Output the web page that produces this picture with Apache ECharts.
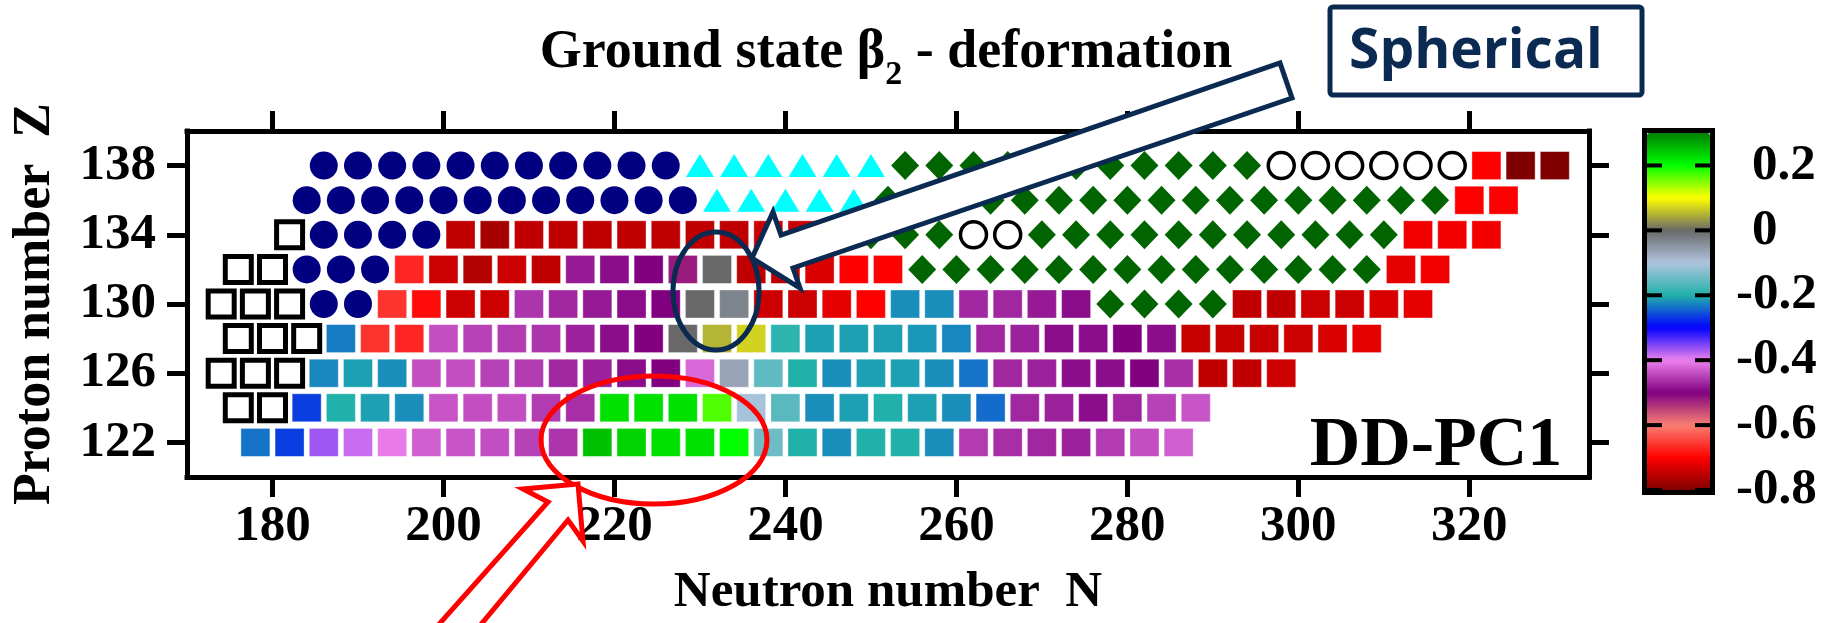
<!DOCTYPE html>
<html><head><meta charset="utf-8">
<script src="https://cdn.jsdelivr.net/npm/echarts@6/dist/echarts.min.js"></script>
<style>html,body{margin:0;padding:0;background:#fff}#c{width:1833px;height:623px}</style>
</head><body><div id="c"></div>
<script>
const SERIF = '"Liberation Serif","Times New Roman",serif';
const NAVY = '#0b2a52';

// axis ticks
const xTicks = [180, 200, 220, 240, 260, 280, 300, 320];
const yTicks = [122, 126, 130, 134, 138];
const cbTicks = [0.2, 0, -0.2, -0.4, -0.6, -0.8];
const cbLabels = ['0.2', '0', '-0.2', '-0.4', '-0.6', '-0.8'];
const betaMin = -0.8, betaMax = 0.3;
const cbColors = ['#800000', '#ff0000', '#fa8072', '#800080', '#ee82ee', '#0000ff',
                  '#20b2aa', '#b0c4de', '#696969', '#ffff00', '#00ff00', '#008000'];

// unbound / black open squares : [Z, [N...]]
const openSquareRows = [
  [134, [182]],
  [132, [176, 180]],
  [130, [174, 178, 182]],
  [128, [176, 180, 184]],
  [126, [174, 178, 182]],
  [124, [176, 180]]
];
// navy filled circles
const circleRows = [
  [138, [186, 190, 194, 198, 202, 206, 210, 214, 218, 222, 226]],
  [136, [184, 188, 192, 196, 200, 204, 208, 212, 216, 220, 224, 228]],
  [134, [186, 190, 194, 198]],
  [132, [184, 188, 192]],
  [130, [186, 190]]
];
// cyan triangles
const triangleRows = [
  [138, [230, 234, 238, 242, 246, 250]],
  [136, [232, 236, 240, 244, 248]]
];
// green diamonds
const diamondRows = [
  [138, [254, 258, 262, 266, 270, 274, 278, 282, 286, 290, 294]],
  [136, [252, 256, 260, 264, 268, 272, 276, 280, 284, 288, 292, 296, 300, 304, 308, 312, 316]],
  [134, [246, 250, 254, 258, 270, 274, 278, 282, 286, 290, 294, 298, 302, 306, 310]],
  [132, [256, 260, 264, 268, 272, 276, 280, 284, 288, 292, 296, 300, 304, 308]],
  [130, [278, 282, 286, 290]]
];
// black open circles
const openCircleRows = [
  [138, [298, 302, 306, 310, 314, 318]],
  [134, [262, 266]]
];
// coloured squares : [Z, [[N, beta2]...]]
const squareRows = [
  [138, [[322,-0.70],[326,-0.80],[330,-0.80]]],
  [136, [[320,-0.70],[324,-0.70]]],
  [134, [[202,-0.75],[206,-0.77],[210,-0.75],[214,-0.75],[218,-0.75],[222,-0.75],[226,-0.75],[230,-0.75],[234,-0.75],[238,-0.74],[242,-0.74],[314,-0.71],[318,-0.71],[322,-0.71]]],
  [132, [[196,-0.67],[200,-0.74],[204,-0.76],[208,-0.74],[212,-0.75],[216,-0.48],[220,-0.49],[224,-0.50],[228,-0.52],[232,0.00],[236,-0.75],[240,-0.75],[244,-0.73],[248,-0.70],[252,-0.70],[312,-0.72],[316,-0.71]]],
  [130, [[194,-0.66],[198,-0.69],[202,-0.74],[206,-0.74],[210,-0.46],[214,-0.47],[218,-0.48],[222,-0.49],[226,-0.50],[230,0.00],[234,-0.03],[238,-0.74],[242,-0.74],[246,-0.72],[250,-0.70],[254,-0.22],[258,-0.22],[262,-0.47],[266,-0.47],[270,-0.48],[274,-0.49],[294,-0.75],[298,-0.75],[302,-0.74],[306,-0.74],[310,-0.73],[314,-0.72]]],
  [128, [[188,-0.23],[192,-0.66],[196,-0.67],[200,-0.44],[204,-0.45],[208,-0.455],[212,-0.46],[216,-0.475],[220,-0.49],[224,-0.50],[228,0.00],[232,0.05],[236,0.07],[240,-0.19],[244,-0.21],[248,-0.21],[252,-0.21],[256,-0.215],[260,-0.225],[264,-0.47],[268,-0.475],[272,-0.49],[276,-0.49],[280,-0.50],[284,-0.49],[288,-0.745],[292,-0.745],[296,-0.745],[300,-0.74],[304,-0.73],[308,-0.72]]],
  [126, [[186,-0.225],[190,-0.21],[194,-0.22],[198,-0.44],[202,-0.44],[206,-0.45],[210,-0.455],[214,-0.47],[218,-0.475],[222,-0.49],[226,-0.50],[230,-0.42],[234,-0.066],[238,-0.156],[242,-0.20],[246,-0.22],[250,-0.21],[254,-0.21],[258,-0.22],[262,-0.235],[266,-0.47],[270,-0.475],[274,-0.49],[278,-0.49],[282,-0.50],[286,-0.465],[290,-0.75],[294,-0.75],[298,-0.74]]],
  [124, [[184,-0.265],[188,-0.20],[192,-0.21],[196,-0.22],[200,-0.435],[204,-0.44],[208,-0.44],[212,-0.455],[216,-0.465],[220,0.224],[224,0.224],[228,0.224],[232,0.169],[236,-0.106],[240,-0.16],[244,-0.22],[248,-0.21],[252,-0.20],[256,-0.21],[260,-0.22],[264,-0.24],[268,-0.47],[272,-0.475],[276,-0.49],[280,-0.47],[284,-0.45],[288,-0.435]]],
  [122, [[178,-0.235],[182,-0.265],[186,-0.367],[190,-0.384],[194,-0.405],[198,-0.427],[202,-0.435],[206,-0.44],[210,-0.45],[214,-0.46],[218,0.25],[222,0.235],[226,0.224],[230,0.224],[234,0.20],[238,-0.145],[242,-0.20],[246,-0.22],[250,-0.20],[254,-0.20],[258,-0.22],[262,-0.455],[266,-0.465],[270,-0.47],[274,-0.475],[278,-0.455],[282,-0.44],[286,-0.427]]]
];

function expand(rows) { const o = []; rows.forEach(([z, ns]) => ns.forEach(n => o.push([n, z]))); return o; }
function expandSq(rows) { const o = []; rows.forEach(([z, ps]) => ps.forEach(([n, b]) => o.push([n, z, b]))); return o; }

const chart = echarts.init(document.getElementById('c'));

const axisLineStyle = { show: true, onZero: false, lineStyle: { color: '#000', width: 5, cap: 'square' } };
const tickStyle = (vals) => ({ show: true, inside: false, length: 20, customValues: vals, lineStyle: { color: '#000', width: 5 } });
const labelFont = { fontFamily: SERIF, fontWeight: 'bold', fontSize: 51, color: '#000' };

// colorbar geometry (graphic decoration around visualMap)
const CB = { left: 1647, top: 133, w: 63, h: 357 };
const cbY = v => CB.top + (betaMax - v) / (betaMax - betaMin) * CB.h;

const graphics = [];
// title
graphics.push({ type: 'text', x: 886, y: 53, z: 50, style: {
  text: '{a|Ground state β}{s|2}{a| - deformation}', align: 'center', verticalAlign: 'middle',
  rich: { a: { fontFamily: SERIF, fontWeight: 'bold', fontSize: 54, lineHeight: 84, fill: '#000' },
          s: { fontFamily: SERIF, fontWeight: 'bold', fontSize: 34, lineHeight: 40, padding: [44, 0, 0, 0], fill: '#000' } }
}});
// model label
graphics.push({ type: 'text', x: 1436, y: 447, z: 50, style: {
  text: 'DD-PC1', align: 'center', verticalAlign: 'middle',
  font: 'bold 70px ' + SERIF, fill: '#000' }});
// colorbar frame, ticks and labels
graphics.push({ type: 'rect', z: 60, shape: { x: CB.left - 2.5, y: CB.top - 2.5, width: CB.w + 5, height: CB.h + 5 },
  style: { fill: 'none', stroke: '#000', lineWidth: 5 } });
cbTicks.forEach((v, i) => {
  const y = cbY(v);
  graphics.push({ type: 'line', z: 60, shape: { x1: CB.left, y1: y, x2: CB.left + 15, y2: y }, style: { stroke: '#000', lineWidth: 4 } });
  graphics.push({ type: 'line', z: 60, shape: { x1: CB.left + CB.w - 15, y1: y, x2: CB.left + CB.w, y2: y }, style: { stroke: '#000', lineWidth: 4 } });
  const lab = cbLabels[i];
  graphics.push({ type: 'text', z: 60, x: lab[0] === '-' ? 1736 : 1752, y: y, style: {
    text: lab, align: 'left', verticalAlign: 'middle', font: 'bold 51px ' + SERIF, fill: '#000' }});
});
// navy "spherical" ellipse + arrow + box
graphics.push({ type: 'ellipse', z: 70, shape: { cx: 716, cy: 291, rx: 43, ry: 59 },
  style: { fill: 'none', stroke: NAVY, lineWidth: 5 } });
graphics.push({ type: 'polygon', z: 71, shape: { points: [[752,258],[773,212],[781,235],[1280,63],[1292,98],[793,268],[800,288]] },
  style: { fill: '#fff', stroke: NAVY, lineWidth: 5, lineJoin: 'miter' } });
graphics.push({ type: 'rect', z: 70, shape: { x: 1330, y: 7, width: 312, height: 88, r: 3 },
  style: { fill: '#fff', stroke: NAVY, lineWidth: 5 } });
graphics.push({ type: 'text', z: 72, x: 1476, y: 52, style: {
  text: 'Spherical', align: 'center', verticalAlign: 'middle', font: 'bold 55px "Open Sans", "DejaVu Sans", sans-serif', fill: NAVY }});
// red ellipse + arrow
graphics.push({ type: 'ellipse', z: 70, shape: { cx: 654, cy: 440, rx: 113, ry: 64 },
  style: { fill: 'none', stroke: '#ff0000', lineWidth: 5 } });
graphics.push({ type: 'polygon', z: 71, shape: { points: [[578,484],[523,489],[548,502],[425,640],[468,640],[568,520],[583,541]] },
  style: { fill: '#fff', stroke: '#ff0000', lineWidth: 5, lineJoin: 'miter' } });

const option = {
  animation: false,
  backgroundColor: '#fff',
  grid: { left: 187, right: 244, top: 131, bottom: 132, containLabel: false },
  xAxis: [
    { type: 'value', position: 'bottom', min: 170, max: 334,
      axisLine: axisLineStyle, axisTick: tickStyle(xTicks),
      axisLabel: Object.assign({ customValues: xTicks, margin: 24 }, labelFont),
      splitLine: { show: false },
      name: 'Neutron number  N', nameLocation: 'middle', nameGap: 90,
      nameTextStyle: { fontFamily: SERIF, fontWeight: 'bold', fontSize: 51, color: '#000' } },
    { type: 'value', position: 'top', min: 170, max: 334,
      axisLine: axisLineStyle, axisTick: tickStyle(xTicks),
      axisLabel: { show: false }, splitLine: { show: false } }
  ],
  yAxis: [
    { type: 'value', position: 'left', min: 120, max: 140,
      axisLine: axisLineStyle, axisTick: tickStyle(yTicks),
      axisLabel: Object.assign({ customValues: yTicks, margin: 31 }, labelFont),
      splitLine: { show: false },
      name: 'Proton number  Z', nameLocation: 'middle', nameGap: 125,
      nameTextStyle: { fontFamily: SERIF, fontWeight: 'bold', fontSize: 52, color: '#000' } },
    { type: 'value', position: 'right', min: 120, max: 140,
      axisLine: axisLineStyle, axisTick: tickStyle(yTicks),
      axisLabel: { show: false }, splitLine: { show: false } }
  ],
  visualMap: {
    type: 'continuous', min: betaMin, max: betaMax, dimension: 2, seriesIndex: 5,
    calculable: false, orient: 'vertical', left: CB.left, top: CB.top,
    itemWidth: CB.w, itemHeight: CB.h, padding: 0, text: null, showLabel: false,
    inRange: { color: cbColors }
  },
  series: [
    { type: 'scatter', silent: true, symbol: 'rect', symbolSize: 26, data: expand(openSquareRows),
      itemStyle: { color: '#fff', borderColor: '#000', borderWidth: 5, opacity: 1 } },
    { type: 'scatter', silent: true, symbol: 'circle', symbolSize: 28, data: expand(circleRows),
      itemStyle: { color: '#000080', opacity: 1 } },
    { type: 'scatter', silent: true, symbol: 'triangle', symbolSize: [28, 23], data: expand(triangleRows),
      itemStyle: { color: '#00ffff', opacity: 1 } },
    { type: 'scatter', silent: true, symbol: 'diamond', symbolSize: [28, 29], data: expand(diamondRows),
      itemStyle: { color: '#006400', opacity: 1 } },
    { type: 'scatter', silent: true, symbol: 'circle', symbolSize: 26, data: expand(openCircleRows),
      itemStyle: { color: '#fff', borderColor: '#000', borderWidth: 3.5, opacity: 1 } },
    { type: 'scatter', silent: true, symbol: 'rect', symbolSize: [29, 28], data: expandSq(squareRows),
      itemStyle: { borderColor: 'rgba(255,255,255,0.35)', borderWidth: 1, opacity: 1 } }
  ],
  graphic: graphics
};
chart.setOption(option);
</script>
</body></html>
